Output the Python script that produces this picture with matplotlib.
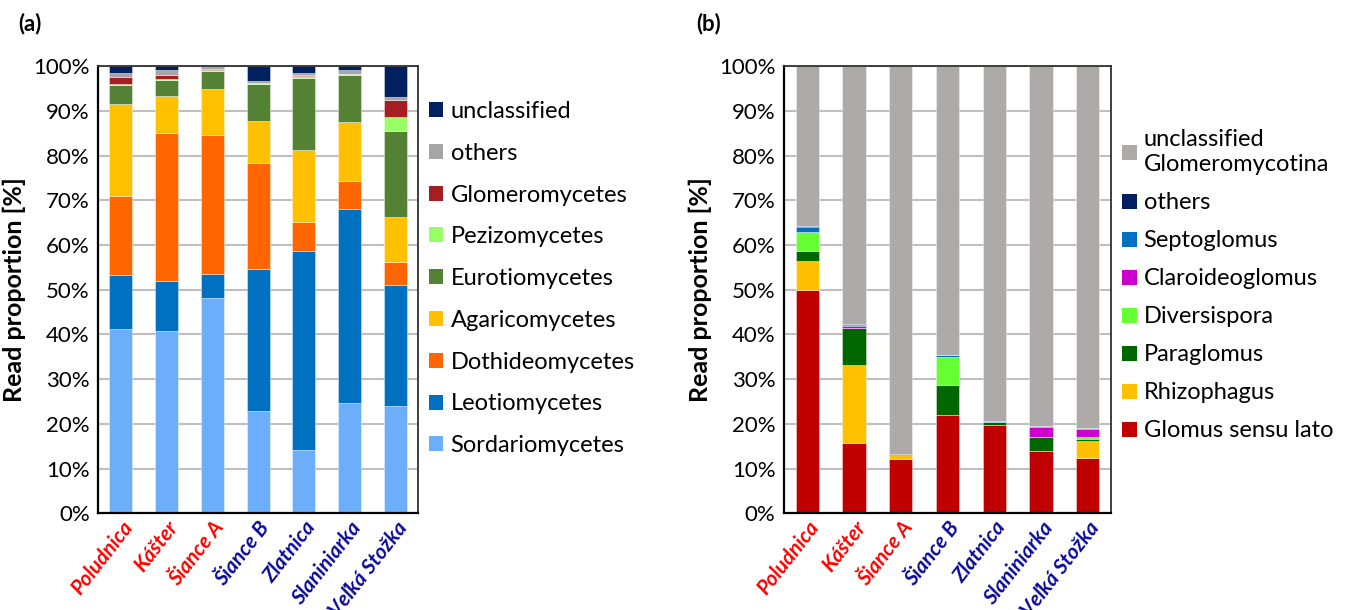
import numpy as np
import matplotlib
matplotlib.use("Agg")
import matplotlib.pyplot as plt
from matplotlib.patches import Patch

plt.rcParams["font.family"] = ["Lato", "DejaVu Sans"]

sites = ["Poludnica", "Kášter", "Šiance A", "Šiance B", "Zlatnica", "Slaniniarka", "Veľká Stožka"]
site_colors = ["#FF0000", "#FF0000", "#FF0000", "#0A0A9A", "#0A0A9A", "#0A0A9A", "#0A0A9A"]

# panel (a): fungal classes, bottom to top, % of reads
classes_a = ["Sordariomycetes", "Leotiomycetes", "Dothideomycetes", "Agaricomycetes",
             "Eurotiomycetes", "Pezizomycetes", "Glomeromycetes", "others", "unclassified"]
colors_a = ["#6DAEFB", "#0070C0", "#FF6600", "#FFC000", "#548235",
            "#99FF66", "#A51E22", "#A6A6A6", "#002060"]
sordario = [41.3, 40.8, 48.1, 22.9, 14.2, 24.7, 24.1]
leotio = [11.9, 11.1, 5.5, 31.8, 44.5, 43.4, 26.9]
dothideo = [17.7, 33.2, 30.9, 23.6, 6.4, 6.1, 5.1]
agarico = [20.7, 8.2, 10.4, 9.4, 16.2, 13.2, 10.2]
eurotio = [4.1, 3.5, 3.9, 8.2, 16.0, 10.5, 19.2]
pezizo = [0.2, 0.2, 0.2, 0.3, 0.4, 0.4, 3.2]
glomero = [1.6, 1.1, 0.4, 0.0, 0.4, 0.0, 3.6]
others_a = [1.0, 1.1, 0.3, 0.4, 0.4, 0.8, 0.8]
unclass_a = [1.5, 0.8, 0.3, 3.4, 1.5, 0.9, 6.9]
values_a = [sordario, leotio, dothideo, agarico, eurotio, pezizo, glomero, others_a, unclass_a]

# panel (b): Glomeromycotina genera, bottom to top
classes_b = ["Glomus sensu lato", "Rhizophagus", "Paraglomus", "Diversispora",
             "Claroideoglomus", "Septoglomus", "others", "unclassified\nGlomeromycotina"]
colors_b = ["#C00000", "#FFC000", "#006600", "#66FF33",
            "#CC00CC", "#0070C0", "#002060", "#AEAAAA"]
glomus = [49.9, 15.8, 12.1, 22.0, 19.8, 13.9, 12.4]
rhizophagus = [6.5, 17.3, 1.0, 0.0, 0.0, 0.0, 3.8]
paraglomus = [2.3, 8.4, 0.0, 6.7, 0.6, 3.2, 0.5]
diversispora = [4.2, 0.0, 0.0, 6.3, 0.0, 0.1, 0.5]
claroideo = [0.0, 0.4, 0.0, 0.0, 0.0, 2.2, 1.6]
septo = [1.2, 0.3, 0.0, 0.5, 0.3, 0.1, 0.2]
others_b = [0.2, 0.1, 0.1, 0.0, 0.0, 0.0, 0.2]
unclass_b = [35.7, 57.7, 86.8, 64.5, 79.3, 80.5, 80.8]
values_b = [glomus, rhizophagus, paraglomus, diversispora, claroideo, septo, others_b, unclass_b]


def stacked(ax, values, colors, labels, legend_y, spacing):
    x = np.arange(len(sites))
    bottom = np.zeros(len(sites))
    for vals, col in zip(values, colors):
        ax.bar(x, vals, 0.5, bottom=bottom, color=col,
               edgecolor=(1, 1, 1, 0.45), linewidth=0.6, zorder=2)
        bottom += np.array(vals)
    ax.set_xlim(-0.5, len(sites) - 0.5)
    ax.set_ylim(0, 100)
    ax.set_yticks(np.arange(0, 101, 10))
    ax.set_yticklabels([f"{v}%" for v in range(0, 101, 10)])
    ax.yaxis.grid(True, color="#BFBFBF", linewidth=1.5)
    ax.set_axisbelow(True)
    ax.tick_params(length=0, labelsize=16, pad=6)
    ax.set_xticks(x)
    ax.set_xticklabels(sites, rotation=52, ha="right", rotation_mode="anchor",
                       fontweight="bold", fontstyle="italic", fontsize=15)
    for lab, c in zip(ax.get_xticklabels(), site_colors):
        lab.set_color(c)
    ax.tick_params(axis="x", pad=3)
    ax.set_ylabel("Read proportion [%]", fontsize=18, fontweight="bold", labelpad=5)
    for side in ["left", "bottom"]:
        ax.spines[side].set_linewidth(1.6)
        ax.spines[side].set_color("black")
    for side in ["top", "right"]:
        ax.spines[side].set_linewidth(1.3)
        ax.spines[side].set_color("#303030")
    handles = [Patch(facecolor=c, label=l) for c, l in zip(colors, labels)][::-1]
    leg = ax.legend(handles=handles, loc="center left", bbox_to_anchor=(1.035, legend_y),
                    frameon=False, fontsize=17, handlelength=0.6, handleheight=0.6,
                    handletextpad=0.3, labelspacing=spacing, borderaxespad=0, borderpad=0)
    for t in leg.get_texts():
        t.set_linespacing(1.25)


fig = plt.figure(figsize=(13.47, 6.1), dpi=100)
ax_a = fig.add_axes([0.0728, 0.1582, 0.2376, 0.7336])
ax_b = fig.add_axes([0.582, 0.1582, 0.2428, 0.7336])

stacked(ax_a, values_a, colors_a, classes_a, 0.525, 0.88)
stacked(ax_b, values_b, colors_b, classes_b, 0.51, 0.72)

fig.text(0.0134, 0.962, "(a)", fontsize=16, fontweight="bold", va="center")
fig.text(0.517, 0.962, "(b)", fontsize=16, fontweight="bold", va="center")

fig.savefig("out.png", dpi=100)
